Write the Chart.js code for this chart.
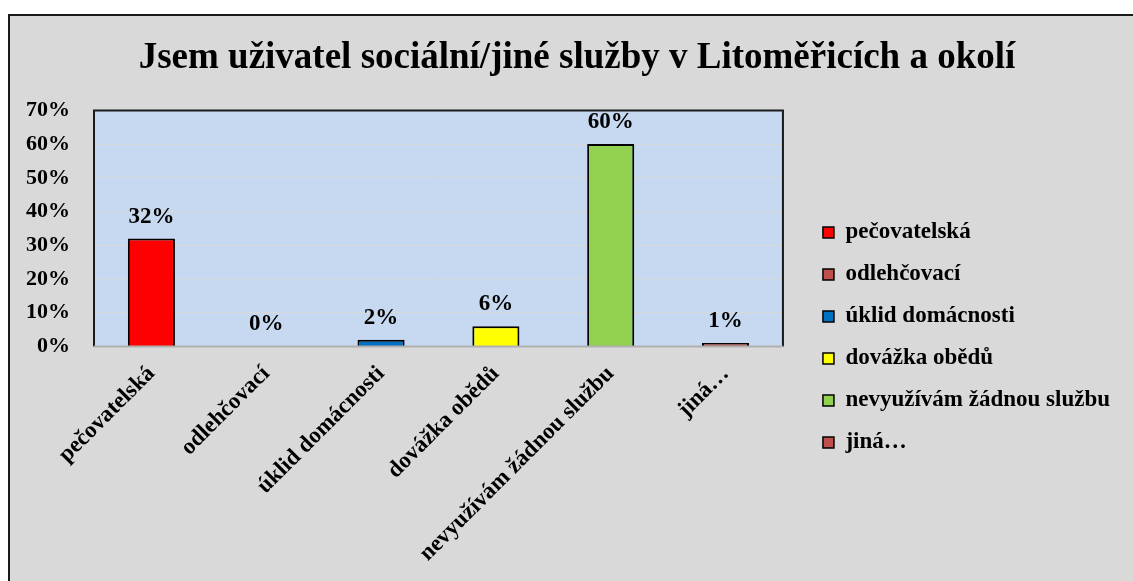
<!DOCTYPE html>
<html>
<head>
<meta charset="utf-8">
<script src="https://cdn.jsdelivr.net/npm/chart.js@4"></script>
<style>
  html, body { margin: 0; padding: 0; background: #fff; overflow: hidden; }
  #box {
    position: absolute; left: 8px; top: 14px;
    width: 1140px; height: 580px;
    background: #d9d9d9; border: 2px solid #1a1a1a;
  }
  #wrap { position: absolute; left: 0; top: 0; width: 1125px; height: 557px; }
</style>
</head>
<body>
<div id="box"><div id="wrap"><canvas id="chart"></canvas></div></div>
<script>
const categories = ['pečovatelská', 'odlehčovací', 'úklid domácnosti', 'dovážka obědů', 'nevyužívám žádnou službu', 'jiná…'];
const values = [32, 0, 2, 6, 60, 1];
const barColors = ['#ff0000', '#c0504d', '#0070c0', '#ffff00', '#92d050', '#c0504d'];
const yTicks = [0, 10, 20, 30, 40, 50, 60, 70];

const serif = "'Liberation Serif', 'Times New Roman', serif";

// light blue plot area with dark frame
const plotArea = {
    id: 'plotArea',
    beforeDraw(chart) {
        const {ctx, chartArea: a} = chart;
        ctx.save();
        ctx.fillStyle = '#c6d9f1';
        ctx.fillRect(a.left, a.top, a.right - a.left, a.bottom - a.top);
        ctx.restore();
    },
    afterDatasetsDraw(chart) {
        const {ctx, chartArea: a} = chart;
        ctx.save();
        ctx.strokeStyle = '#1a1a1a';
        ctx.lineWidth = 2;
        ctx.beginPath();
        ctx.moveTo(a.left, a.bottom);
        ctx.lineTo(a.left, a.top);
        ctx.lineTo(a.right, a.top);
        ctx.lineTo(a.right, a.bottom);
        ctx.stroke();
        ctx.strokeStyle = '#b0b0b0';
        ctx.beginPath();
        ctx.moveTo(a.left, a.bottom);
        ctx.lineTo(a.right, a.bottom);
        ctx.stroke();
        ctx.restore();
    }
};

// nudge legend (right/down) and title (right) like the original layout
const boxShift = {
    id: 'boxShift',
    afterLayout(chart) {
        const lg = chart.legend;
        lg.left += 21;
        lg.right += 21;
        lg.top += 43;
        lg.bottom += 43;
        const t = chart.titleBlock;
        t.left += 15;
        t.right += 15;
    }
};

// value labels above the bars
const valueLabels = {
    id: 'valueLabels',
    afterDatasetsDraw(chart) {
        const {ctx} = chart;
        const meta = chart.getDatasetMeta(0);
        ctx.save();
        ctx.font = 'bold 23px ' + serif;
        ctx.fillStyle = '#000';
        ctx.textAlign = 'center';
        ctx.textBaseline = 'alphabetic';
        meta.data.forEach((bar, i) => {
            ctx.fillText(values[i] + '%', bar.x, bar.y - 16);
        });
        ctx.restore();
    }
};

new Chart(document.getElementById('chart'), {
    type: 'bar',
    data: {
        labels: categories,
        datasets: [{
            data: values,
            backgroundColor: barColors,
            borderColor: '#000',
            borderWidth: 2,
            categoryPercentage: 1,
            barPercentage: 0.41
        }]
    },
    options: {
        responsive: true,
        maintainAspectRatio: false,
        animation: false,
        layout: { padding: { left: 15, right: 36, bottom: 0 } },
        plugins: {
            title: {
                display: true,
                text: 'Jsem uživatel sociální/jiné služby v Litoměřicích a okolí',
                color: '#000',
                font: { family: serif, size: 37, weight: 'bold' },
                padding: { top: 20, bottom: 30 }
            },
            legend: {
                position: 'right',
                maxWidth: 420,
                labels: {
                    color: '#000',
                    font: { family: serif, size: 23, weight: 'bold' },
                    boxWidth: 11,
                    boxHeight: 11,
                    padding: 19,
                    generateLabels: () => categories.map((c, i) => ({
                        text: c,
                        fillStyle: barColors[i],
                        strokeStyle: '#000',
                        lineWidth: 1.5,
                        index: i
                    }))
                }
            },
            tooltip: { enabled: false }
        },
        scales: {
            x: {
                grid: { display: false },
                border: { display: false },
                afterFit: (scale) => { scale.paddingLeft = 0; scale.paddingRight = 0; },
                ticks: {
                    color: '#000',
                    font: { family: serif, size: 23, weight: 'bold' },
                    minRotation: 45,
                    maxRotation: 45,
                    padding: 6
                }
            },
            y: {
                min: 0,
                max: 70,
                afterBuildTicks: (axis) => { axis.ticks = yTicks.map(v => ({value: v})); },
                afterFit: (scale) => { scale.width = 69; },
                grid: { color: '#d9d9d9', lineWidth: 1, drawTicks: false },
                border: { display: false },
                ticks: {
                    color: '#000',
                    font: { family: serif, size: 22, weight: 'bold' },
                    padding: 24,
                    callback: (v) => v + '%'
                }
            }
        }
    },
    plugins: [plotArea, boxShift, valueLabels]
});
</script>
</body>
</html>
